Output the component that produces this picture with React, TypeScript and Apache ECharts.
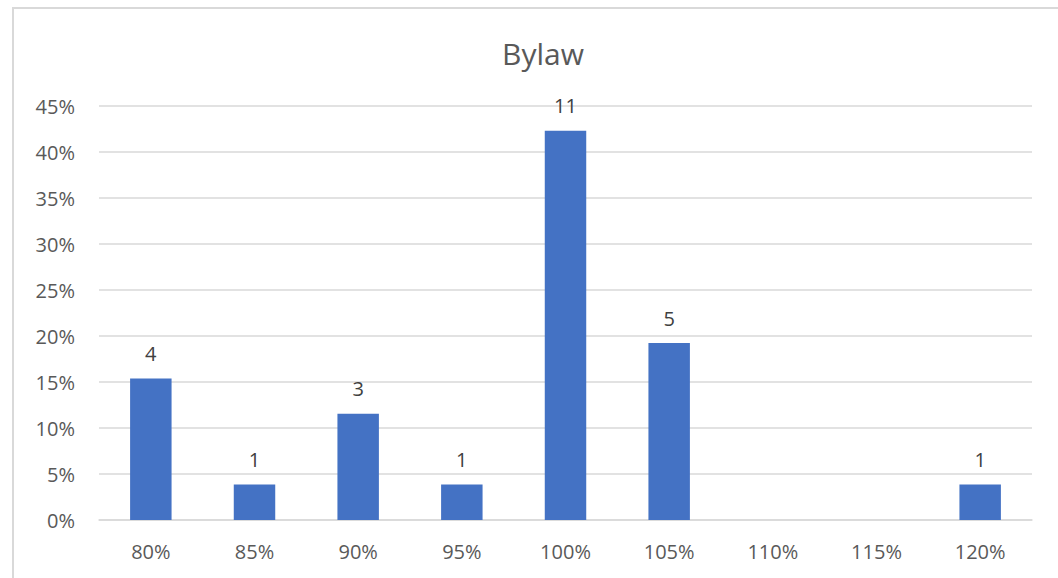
import React, { useEffect, useRef } from "react";
import * as echarts from "echarts";

const categories = ["80%", "85%", "90%", "95%", "100%", "105%", "110%", "115%", "120%"];
const counts = [4, 1, 3, 1, 11, 5, 0, 0, 1];
const total = counts.reduce((a, b) => a + b, 0);
const shares = counts.map((c) => (c / total) * 100);

export default function App() {
  const ref = useRef<HTMLDivElement>(null);
  useEffect(() => {
    if (!ref.current) return;
    const chart = echarts.init(ref.current, null, { renderer: "svg" });
    const font = "'Open Sans', 'Liberation Sans', sans-serif";
    chart.setOption({
      animation: false,
      backgroundColor: "#ffffff",
      title: {
        text: "Bylaw",
        left: 538,
        textAlign: "center",
        top: 33,
        textStyle: { fontFamily: font, fontSize: 30, fontWeight: "normal", color: "#595959" },
      },
      graphic: [
        {
          type: "rect",
          shape: { x: 13, y: 8, width: 1200, height: 700 },
          style: { fill: "none", stroke: "#d9d9d9", lineWidth: 2 },
          silent: true,
        },
      ],
      grid: { left: 99, right: 26, top: 106, bottom: 58 },
      xAxis: {
        type: "category",
        data: categories,
        axisLine: { show: true, lineStyle: { color: "#d9d9d9", width: 1.5 } },
        axisTick: { show: false },
        axisLabel: { color: "#595959", fontSize: 20, fontFamily: font, margin: 21 },
      },
      yAxis: {
        type: "value",
        min: 0,
        max: 45,
        interval: 5,
        axisLine: { show: false },
        axisTick: { show: false },
        splitLine: { lineStyle: { color: "#d9d9d9", width: 1.5 } },
        axisLabel: { color: "#595959", fontSize: 20, fontFamily: font, margin: 24, formatter: "{value}%" },
      },
      series: [
        {
          type: "bar",
          data: shares,
          barWidth: "40%",
          itemStyle: { color: "#4472c4" },
          label: {
            show: true,
            position: "top",
            distance: 15,
            color: "#404040",
            fontSize: 20,
            fontFamily: font,
            formatter: (p: any) => (counts[p.dataIndex] > 0 ? String(counts[p.dataIndex]) : ""),
          },
        },
      ],
    });
    return () => chart.dispose();
  }, []);
  return <div ref={ref} style={{ position: "fixed", left: 0, top: 0, width: 1058, height: 578 }} />;
}
